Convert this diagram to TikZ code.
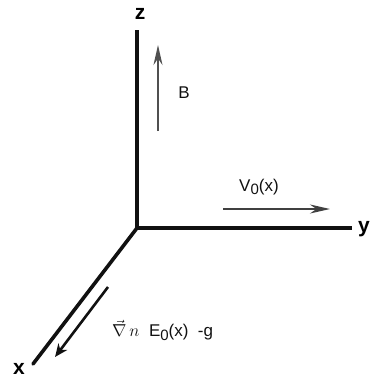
\documentclass[tikz,border=0pt]{standalone}
\usepackage{fontspec}
\setmainfont{Liberation Sans}
\usetikzlibrary{arrows.meta}

\begin{document}
\begin{tikzpicture}[x=1pt, y=-1pt]
    % Define colours
    \definecolor{axisColour}{HTML}{111111}
    \definecolor{fieldColour}{HTML}{505050}

    % Define styles
    \tikzset{
        axis/.style={line width=3.6pt, draw=axisColour},
        axislabel/.style={font=\fontsize{21}{21}\selectfont\bfseries},
        field/.style={line width=2pt, draw=fieldColour, -{Stealth[length=20pt, width=9pt]}},
        label/.style={font=\fontsize{17}{17}\selectfont, text=axisColour}
    }
    \def\sub#1{\raisebox{-0.4ex}{\fontsize{15}{15}\selectfont #1}}

    % Fix picture size
    \useasboundingbox (0,0) rectangle (371,381);

    % Define coordinates of the axes
    \coordinate (O) at (137,228);
    \coordinate (X) at (33,364);
    \coordinate (Y) at (352,228);
    \coordinate (Z) at (137,30);

    % Draw axes
    \draw[axis] (O) -- (Z);
    \draw[axis] (O) -- (Y);
    \draw[axis, line cap=round] (O) -- (X);

    % Label axes
    \node[axislabel] (zlab) at (140,14) {z};
    \node[axislabel, inner sep=1pt] (ylab) at (364,229) {y};
    \node[axislabel] (xlab) at (19,369) {x};

    % Define coordinates of the field arrows
    \coordinate (Bs) at (158,131);
    \coordinate (Be) at (158,45);
    \coordinate (Vs) at (223,209);
    \coordinate (Ve) at (330,209);
    \coordinate (Gs) at (108,287);
    \coordinate (Ge) at (55,357);

    % Draw field arrows
    \draw[field] (Bs) -- (Be);
    \draw[field, draw=fieldColour!80!black] (Vs) -- (Ve);
    \draw[field, line width=2.6pt, draw=axisColour, -{Stealth[length=13pt, width=11pt]}] (Gs) -- (Ge);

    % Label field arrows
    \node[label] (Blab) at (184,93) {B};
    \node[label] (Vlab) at (259,187) {V\sub{0}(x)};
    \node[label, anchor=west, inner sep=1pt] (Glab) at (111,330) {$\vec{\nabla}\,n$\ \ E\sub{0}(x)\ \ -g};

\end{tikzpicture}
\end{document}
